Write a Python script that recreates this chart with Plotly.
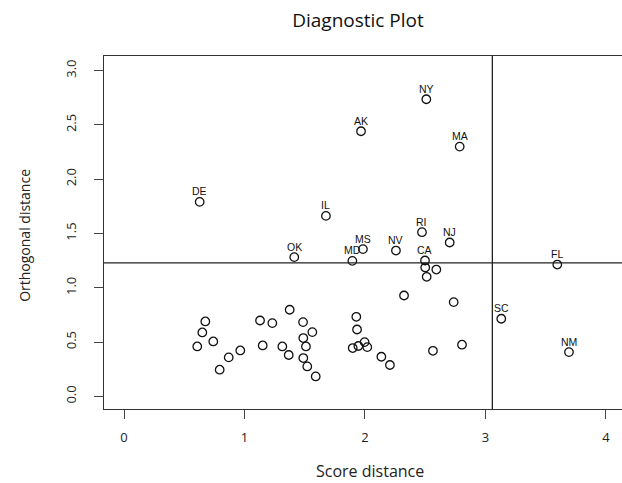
import plotly.graph_objects as go

# Score distance / orthogonal distance per observation
labels = ["DE", "IL", "OK", "MD", "NY", "AK", "MA", "RI", "NJ", "MS", "NV", "CA", "FL", "SC", "NM",
          "", "", "", "", "", "", "", "", "", "", "", "", "", "", "",
          "", "", "", "", "", "", "", "", "", "", "", "", "", "", "", "", "", "", "", ""]
score_dist = [0.628, 1.676, 1.413, 1.895, 2.509, 1.967, 2.786, 2.473, 2.703, 1.983, 2.257, 2.498, 3.596, 3.131, 3.693,
              2.500, 2.592, 2.512, 2.324, 2.736, 1.928, 1.934, 1.997, 1.898, 1.945, 2.019, 2.136, 2.207, 2.564, 2.805,
              0.675, 0.650, 0.741, 0.608, 0.869, 0.965, 0.794, 1.129, 1.231, 1.375, 1.486, 1.563, 1.488, 1.510,
              1.151, 1.314, 1.367, 1.488, 1.521, 1.591]
orth_dist = [1.791, 1.662, 1.282, 1.248, 2.736, 2.441, 2.300, 1.512, 1.417, 1.356, 1.343, 1.251, 1.214, 0.715, 0.408,
             1.187, 1.168, 1.101, 0.929, 0.868, 0.733, 0.616, 0.500, 0.445, 0.464, 0.454, 0.365, 0.289, 0.420, 0.476,
             0.690, 0.589, 0.506, 0.460, 0.359, 0.423, 0.246, 0.699, 0.675, 0.798, 0.684, 0.592, 0.537, 0.460,
             0.469, 0.460, 0.381, 0.353, 0.276, 0.184]
score_cutoff = 3.057
orth_cutoff = 1.23
x_ticks = [0, 1, 2, 3, 4]
y_ticks = [0.0, 0.5, 1.0, 1.5, 2.0, 2.5, 3.0]

W, H = 622, 483
ML, MT, MB = 104, 56, 73.7
PW = W - ML
PH = H - MT - MB

fig = go.Figure()
fig.add_trace(go.Scatter(
    x=score_dist, y=orth_dist, mode="markers",
    marker=dict(symbol="circle-open", size=8.5, color="#111", line=dict(width=1.3, color="#111")),
    cliponaxis=False, hoverinfo="skip", showlegend=False,
))
fig.add_vline(x=score_cutoff, line=dict(color="#222", width=1.3))
fig.add_hline(y=orth_cutoff, line=dict(color="#222", width=1.3))

point_labels = [
    dict(text=t, x=sx, y=oy, xref="x", yref="y", showarrow=False, yshift=10.5,
         xanchor="center", yanchor="middle",
         font=dict(family="Liberation Sans, Arial, sans-serif", size=10.5, color="#111"))
    for t, sx, oy in zip(labels, score_dist, orth_dist) if t
]

fig.update_layout(
    width=W, height=H,
    margin=dict(l=ML, r=0, t=MT, b=MB),
    paper_bgcolor="white", plot_bgcolor="white",
    font=dict(family="Open Sans, Noto Sans, sans-serif", color="#222"),
    title=dict(text="Diagnostic Plot", x=358 / W, xanchor="center", y=1 - 20.5 / H, yanchor="middle",
               font=dict(size=19, family="Open Sans, sans-serif", color="#111")),
    annotations=point_labels + [
        dict(text="Score distance", xref="paper", yref="paper",
             x=(370 - ML) / PW, y=(H - MB - 471) / PH, xanchor="center", yanchor="middle",
             showarrow=False, font=dict(size=16, color="#222")),
        dict(text="Orthogonal distance", xref="paper", yref="paper", textangle=-90,
             x=(25 - ML) / PW, y=(H - MB - 236) / PH, xanchor="center", yanchor="middle",
             showarrow=False, font=dict(size=14, color="#222")),
    ],
)
fig.update_xaxes(
    range=[-0.166, 4.133], tickvals=x_ticks, ticktext=[str(v) for v in x_ticks],
    showgrid=False, zeroline=False, showline=True, linecolor="#333", linewidth=1.3, mirror=True,
    ticks="outside", ticklen=9, tickwidth=1.2, tickcolor="#444", ticklabelstandoff=7,
    tickfont=dict(size=13, color="#222"),
)
fig.update_yaxes(
    range=[-0.116, 3.134], tickvals=y_ticks, ticktext=[f"{v:.1f}" for v in y_ticks],
    showgrid=False, zeroline=False, showline=True, linecolor="#333", linewidth=1.3, mirror=False,
    ticks="outside", ticklen=9, tickwidth=1.2, tickcolor="#444", tickangle=-90, ticklabelstandoff=13,
    tickfont=dict(size=13, color="#222"),
)
fig.write_html("out.html", config={"displayModeBar": False},
               post_script="document.body.style.margin='0px';")
